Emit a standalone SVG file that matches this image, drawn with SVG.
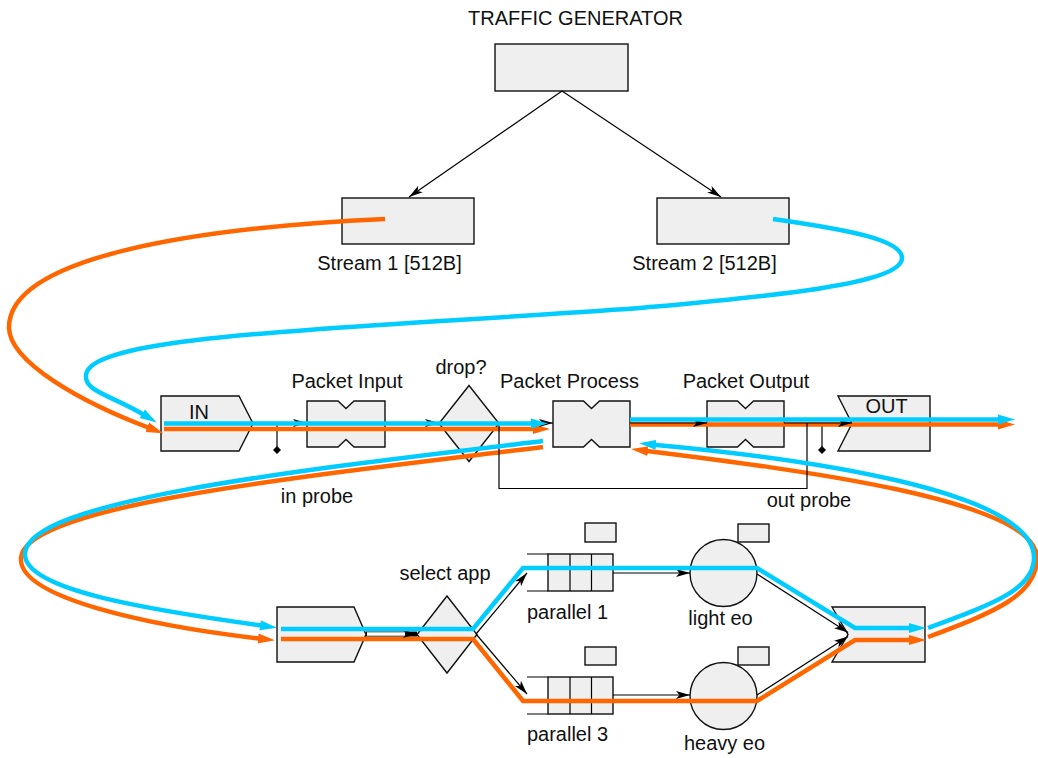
<svg xmlns="http://www.w3.org/2000/svg" width="1038" height="758" viewBox="0 0 1038 758">
  <style>
    .shape { fill: #efefef; stroke: #111; stroke-width: 1.4; }
    .lbl { font-family: "Liberation Sans", Arial, sans-serif; font-size: 20px; fill: #111; text-anchor: middle; }
    .link { fill: none; stroke: #000; stroke-width: 1.2; }
    .blue { fill: none; stroke: #00ccff; stroke-width: 4.5; }
    .orange { fill: none; stroke: #ff6600; stroke-width: 4.5; }
  </style>
  <defs>
    <marker id="ah" markerUnits="userSpaceOnUse" markerWidth="16" markerHeight="10" refX="14" refY="5" orient="auto">
      <path d="M0,1 L14,5 L0,9 L3.5,5 Z" fill="#000"/>
    </marker>
    <marker id="hb" markerUnits="userSpaceOnUse" markerWidth="18" markerHeight="12" refX="5" refY="6" orient="auto">
      <path d="M0,1 L17,6 L0,11 Z" fill="#00ccff"/>
    </marker>
    <marker id="ho" markerUnits="userSpaceOnUse" markerWidth="18" markerHeight="12" refX="5" refY="6" orient="auto">
      <path d="M0,1 L17,6 L0,11 Z" fill="#ff6600"/>
    </marker>
  </defs>

  <rect width="1038" height="758" fill="#fff"/>

  <!-- traffic source -->
  <g id="traffic-generator">
    <rect class="shape" x="495" y="44" width="133" height="47"/>
    <text class="lbl" x="575.5" y="25">TRAFFIC GENERATOR</text>
  </g>
  <g id="stream-1">
    <rect class="shape" x="342" y="198" width="132" height="46"/>
    <text class="lbl" x="389.5" y="270">Stream 1 [512B]</text>
  </g>
  <g id="stream-2">
    <rect class="shape" x="657" y="198" width="132" height="46"/>
    <text class="lbl" x="704.5" y="270">Stream 2 [512B]</text>
  </g>

  <!-- upper pipeline -->
  <g id="in-port">
    <path class="shape" d="M161,396 H239 L253,423.5 L239,451 H161 Z"/>
    <text class="lbl" x="199" y="419">IN</text>
  </g>
  <g id="packet-input">
    <path class="shape" d="M307,401 H338 L346,408.5 L354,401 H385 V447 H354 L346,439.5 L338,447 H307 Z"/>
    <text class="lbl" x="347" y="388">Packet Input</text>
  </g>
  <g id="drop">
    <path class="shape" d="M469,385.5 L499,423.5 L469,461.5 L439,423.5 Z"/>
    <text class="lbl" x="461" y="374">drop?</text>
  </g>
  <g id="packet-process">
    <path class="shape" d="M553,401 H583.5 L591.5,408.5 L599.5,401 H630 V447 H599.5 L591.5,439.5 L583.5,447 H553 Z"/>
    <text class="lbl" x="569.5" y="388">Packet Process</text>
  </g>
  <g id="packet-output">
    <path class="shape" d="M707,401 H737.5 L745.5,408.5 L753.5,401 H784 V447 H753.5 L745.5,439.5 L737.5,447 H707 Z"/>
    <text class="lbl" x="746" y="388">Packet Output</text>
  </g>
  <g id="out-port">
    <path class="shape" d="M838,396 H930 V451 H838 L852,423.5 Z"/>
    <text class="lbl" x="886.5" y="413">OUT</text>
  </g>
  <g id="in-probe">
    <line class="link" x1="277" y1="423" x2="277" y2="450"/>
    <path d="M277,446 L281,450 L277,454 L273,450 Z" fill="#000"/>
    <text class="lbl" x="317" y="503">in probe</text>
  </g>
  <g id="out-probe">
    <line class="link" x1="822" y1="423" x2="822" y2="450"/>
    <path d="M822,446 L826,450 L822,454 L818,450 Z" fill="#000"/>
    <text class="lbl" x="809" y="507">out probe</text>
  </g>

  <!-- lower application stage -->
  <g id="app-in">
    <path class="shape" d="M277,607 H354 L366,634.5 L354,662 H277 Z"/>
  </g>
  <g id="select-app">
    <path class="shape" d="M447,596 L477,634.5 L447,673 L417,634.5 Z"/>
    <text class="lbl" x="445" y="580">select app</text>
  </g>
  <g id="parallel-1">
    <rect class="shape" x="585" y="523" width="31" height="19"/>
    <rect class="shape" x="548" y="554" width="65" height="37"/>
    <path class="link" d="M527,554 H548 M527,591 H548 M570,554 V591 M591.5,554 V591" stroke-width="1.4"/>
    <text class="lbl" x="567.5" y="619">parallel 1</text>
  </g>
  <g id="parallel-3">
    <rect class="shape" x="585" y="647" width="31" height="18"/>
    <rect class="shape" x="548" y="677" width="65" height="37"/>
    <path class="link" d="M527,677 H548 M527,714 H548 M570,677 V714 M591.5,677 V714" stroke-width="1.4"/>
    <text class="lbl" x="567.5" y="741">parallel 3</text>
  </g>
  <g id="light-eo">
    <rect class="shape" x="738" y="524" width="31" height="18"/>
    <circle class="shape" cx="723.5" cy="573" r="33.5"/>
    <text class="lbl" x="720.5" y="625">light eo</text>
  </g>
  <g id="heavy-eo">
    <rect class="shape" x="738" y="647" width="31" height="18"/>
    <circle class="shape" cx="723.5" cy="696" r="33.5"/>
    <text class="lbl" x="724.5" y="750">heavy eo</text>
  </g>
  <g id="app-out">
    <path class="shape" d="M832,607 H925 V662 H832 L848,634.5 Z"/>
  </g>

  <g id="connectors">
    <!-- stream 1 traffic -->
    <g id="flow-orange">
      <path class="orange" d="M385,219 C190,228 8,258 9,328 C10,362 80,402 152,429" marker-end="url(#ho)"/>
      <path class="orange" d="M164,429 H538" marker-end="url(#ho)"/>
      <path class="orange" d="M630,424.5 H1003" marker-end="url(#ho)"/>
      <path class="orange" d="M543,447 C300,477 25,505 21,558 C18,598 150,626 263,639" marker-end="url(#ho)"/>
      <path class="orange" d="M281,639 H473 L523,701 H757 L855,640 H914" marker-end="url(#ho)"/>
      <path class="orange" d="M928,637 C995,612 1037,595 1037,558 C1037,500 800,470 643,450.5" marker-end="url(#ho)"/>
    </g>

    <!-- structural links -->
    <g id="links">
      <path class="link" d="M562,91 L409,197" marker-end="url(#ah)"/>
      <path class="link" d="M562,91 L721,197" marker-end="url(#ah)"/>
      <path class="link" d="M253,423 H307" marker-end="url(#ah)"/>
      <path class="link" d="M385,423 H439" marker-end="url(#ah)"/>
      <path class="link" d="M499,423 H553" marker-end="url(#ah)"/>
      <path class="link" d="M630,423 H707" marker-end="url(#ah)"/>
      <path class="link" d="M784,423 H852" marker-end="url(#ah)"/>
      <path class="link" d="M499,423.5 V488.5 H807 V423"/>
      <path d="M366,634 H417" fill="none" stroke="#000" stroke-width="5" marker-end="url(#ah)"/>
      <path d="M367,634 H405" fill="none" stroke="#fff" stroke-width="3.4"/>
      <path class="link" d="M476,634 L527,573" marker-end="url(#ah)"/>
      <path class="link" d="M476,634 L527,694" marker-end="url(#ah)"/>
      <path class="link" d="M613,573 H690" marker-end="url(#ah)"/>
      <path class="link" d="M613,695 H690" marker-end="url(#ah)"/>
      <path class="link" d="M757,574 L848,632.5" marker-end="url(#ah)"/>
      <path class="link" d="M757,695 L848,636.5" marker-end="url(#ah)"/>
    </g>

    <!-- stream 2 traffic -->
    <g id="flow-blue">
      <path class="blue" d="M773,219 C850,230 902,240 902,258 C902,285 760,297 640,308 C330,330 90,335 86,375 C84,392 112,395 146.5,416.3" marker-end="url(#hb)"/>
      <path class="blue" d="M164,423.5 H536" marker-end="url(#hb)"/>
      <path class="blue" d="M630,419.5 H1003" marker-end="url(#hb)"/>
      <path class="blue" d="M543,441 C300,470 30,500 25,553 C22,590 150,610 265,626" marker-end="url(#hb)"/>
      <path class="blue" d="M281,629 H473 L523,568 H757 L855,628 H914" marker-end="url(#hb)"/>
      <path class="blue" d="M928,628 C990,605 1034,590 1034,558 C1034,490 800,458 651,444.4" marker-end="url(#hb)"/>
    </g>
  </g>
</svg>
